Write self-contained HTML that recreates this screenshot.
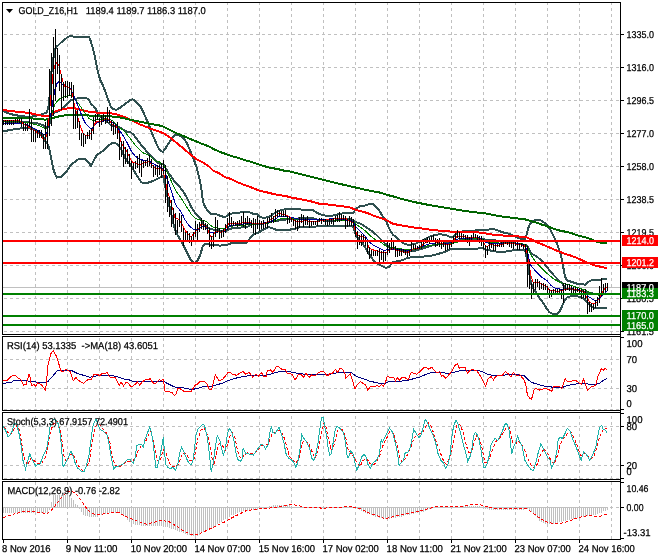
<!DOCTYPE html>
<html><head><meta charset="utf-8"><title>GOLD_Z16,H1</title>
<style>html,body{margin:0;padding:0;background:#fff;width:660px;height:560px;overflow:hidden}svg{display:block}text{white-space:pre}</style>
</head><body>
<svg width="660" height="560" viewBox="0 0 660 560" shape-rendering="crispEdges">
<rect x="0" y="0" width="660" height="560" fill="#fff"/>
<g stroke="#c0c0c0" stroke-width="1" stroke-dasharray="3 3" fill="none"><line x1="35.5" y1="2" x2="35.5" y2="334"/><line x1="67.5" y1="2" x2="67.5" y2="334"/><line x1="99.5" y1="2" x2="99.5" y2="334"/><line x1="131.5" y1="2" x2="131.5" y2="334"/><line x1="163.5" y1="2" x2="163.5" y2="334"/><line x1="195.5" y1="2" x2="195.5" y2="334"/><line x1="227.5" y1="2" x2="227.5" y2="334"/><line x1="259.5" y1="2" x2="259.5" y2="334"/><line x1="291.5" y1="2" x2="291.5" y2="334"/><line x1="323.5" y1="2" x2="323.5" y2="334"/><line x1="355.5" y1="2" x2="355.5" y2="334"/><line x1="387.5" y1="2" x2="387.5" y2="334"/><line x1="419.5" y1="2" x2="419.5" y2="334"/><line x1="451.5" y1="2" x2="451.5" y2="334"/><line x1="483.5" y1="2" x2="483.5" y2="334"/><line x1="515.5" y1="2" x2="515.5" y2="334"/><line x1="547.5" y1="2" x2="547.5" y2="334"/><line x1="579.5" y1="2" x2="579.5" y2="334"/><line x1="611.5" y1="2" x2="611.5" y2="334"/><line x1="35.5" y1="338" x2="35.5" y2="410"/><line x1="67.5" y1="338" x2="67.5" y2="410"/><line x1="99.5" y1="338" x2="99.5" y2="410"/><line x1="131.5" y1="338" x2="131.5" y2="410"/><line x1="163.5" y1="338" x2="163.5" y2="410"/><line x1="195.5" y1="338" x2="195.5" y2="410"/><line x1="227.5" y1="338" x2="227.5" y2="410"/><line x1="259.5" y1="338" x2="259.5" y2="410"/><line x1="291.5" y1="338" x2="291.5" y2="410"/><line x1="323.5" y1="338" x2="323.5" y2="410"/><line x1="355.5" y1="338" x2="355.5" y2="410"/><line x1="387.5" y1="338" x2="387.5" y2="410"/><line x1="419.5" y1="338" x2="419.5" y2="410"/><line x1="451.5" y1="338" x2="451.5" y2="410"/><line x1="483.5" y1="338" x2="483.5" y2="410"/><line x1="515.5" y1="338" x2="515.5" y2="410"/><line x1="547.5" y1="338" x2="547.5" y2="410"/><line x1="579.5" y1="338" x2="579.5" y2="410"/><line x1="611.5" y1="338" x2="611.5" y2="410"/><line x1="35.5" y1="416" x2="35.5" y2="479"/><line x1="67.5" y1="416" x2="67.5" y2="479"/><line x1="99.5" y1="416" x2="99.5" y2="479"/><line x1="131.5" y1="416" x2="131.5" y2="479"/><line x1="163.5" y1="416" x2="163.5" y2="479"/><line x1="195.5" y1="416" x2="195.5" y2="479"/><line x1="227.5" y1="416" x2="227.5" y2="479"/><line x1="259.5" y1="416" x2="259.5" y2="479"/><line x1="291.5" y1="416" x2="291.5" y2="479"/><line x1="323.5" y1="416" x2="323.5" y2="479"/><line x1="355.5" y1="416" x2="355.5" y2="479"/><line x1="387.5" y1="416" x2="387.5" y2="479"/><line x1="419.5" y1="416" x2="419.5" y2="479"/><line x1="451.5" y1="416" x2="451.5" y2="479"/><line x1="483.5" y1="416" x2="483.5" y2="479"/><line x1="515.5" y1="416" x2="515.5" y2="479"/><line x1="547.5" y1="416" x2="547.5" y2="479"/><line x1="579.5" y1="416" x2="579.5" y2="479"/><line x1="611.5" y1="416" x2="611.5" y2="479"/><line x1="35.5" y1="482" x2="35.5" y2="539"/><line x1="67.5" y1="482" x2="67.5" y2="539"/><line x1="99.5" y1="482" x2="99.5" y2="539"/><line x1="131.5" y1="482" x2="131.5" y2="539"/><line x1="163.5" y1="482" x2="163.5" y2="539"/><line x1="195.5" y1="482" x2="195.5" y2="539"/><line x1="227.5" y1="482" x2="227.5" y2="539"/><line x1="259.5" y1="482" x2="259.5" y2="539"/><line x1="291.5" y1="482" x2="291.5" y2="539"/><line x1="323.5" y1="482" x2="323.5" y2="539"/><line x1="355.5" y1="482" x2="355.5" y2="539"/><line x1="387.5" y1="482" x2="387.5" y2="539"/><line x1="419.5" y1="482" x2="419.5" y2="539"/><line x1="451.5" y1="482" x2="451.5" y2="539"/><line x1="483.5" y1="482" x2="483.5" y2="539"/><line x1="515.5" y1="482" x2="515.5" y2="539"/><line x1="547.5" y1="482" x2="547.5" y2="539"/><line x1="579.5" y1="482" x2="579.5" y2="539"/><line x1="611.5" y1="482" x2="611.5" y2="539"/><line x1="4" y1="34.5" x2="620" y2="34.5"/><line x1="4" y1="67.5" x2="620" y2="67.5"/><line x1="4" y1="100.5" x2="620" y2="100.5"/><line x1="4" y1="133.5" x2="620" y2="133.5"/><line x1="4" y1="166.5" x2="620" y2="166.5"/><line x1="4" y1="199.5" x2="620" y2="199.5"/><line x1="4" y1="232.5" x2="620" y2="232.5"/><line x1="4" y1="265.5" x2="620" y2="265.5"/><line x1="4" y1="298.5" x2="620" y2="298.5"/><line x1="4" y1="331.5" x2="620" y2="331.5"/><line x1="4" y1="359.5" x2="620" y2="359.5"/><line x1="4" y1="388.5" x2="620" y2="388.5"/><line x1="4" y1="409.5" x2="620" y2="409.5"/><line x1="4" y1="426.5" x2="620" y2="426.5"/><line x1="4" y1="465.5" x2="620" y2="465.5"/><line x1="4" y1="478.5" x2="620" y2="478.5"/><line x1="4" y1="507.5" x2="620" y2="507.5"/></g>
<line x1="3" y1="287.5" x2="620" y2="287.5" stroke="#c0c0c0" stroke-width="1"/>
<polyline points="3,111 5,111.9 7,112.7 9,113.6 11,114.2 13,114.6 15,115 17,115.4 19,115.8 21,116.1 23,116.3 25,116.5 27,116.7 29,116.9 31,116.8 33,116.3 35,115.8 37,115.4 39,114.9 41,114.5 43,114 45,113.2 47,112.2 49,104.6 51,75.4 53,60.3 55,49.6 57,46.3 59,44.6 61,42.5 63,40.8 65,39.2 67,37.6 69,36.4 71,35.7 73,36.5 75,36.6 77,36.6 79,36.6 81,36.6 83,36.6 85,36.6 87,36.6 89,36.6 91,41.9 93,48.7 95,57.2 97,67.4 99,76.1 101,81.7 103,85.7 105,90.7 107,96.5 109,101.6 111,107.1 113,108.7 115,109.5 117,109.5 119,108.3 121,107.1 123,105.5 125,103.9 127,102.4 129,101 131,99.6 133,99.4 135,101 137,102.6 139,104.8 141,107.4 143,111.4 145,115.9 147,120.4 149,125.2 151,130.8 153,135.6 155,140.3 157,144.8 159,148.8 161,151.1 163,151.7 165,149.2 167,145.9 169,142.9 171,139.9 173,137 175,134.5 177,134.5 179,135.2 181,136.4 183,137.9 185,140 187,143.6 189,147.8 191,152.9 193,157.8 195,162.9 197,168.7 199,176.7 201,186.5 203,201.5 205,206.6 207,209.6 209,211.9 211,213.8 213,213.8 215,213.8 217,214.6 219,215.3 221,216 223,216.7 225,217.3 227,215.9 229,214.3 231,213.8 233,213.3 235,213.1 237,212.9 239,212.7 241,212.2 243,211.7 245,211.6 247,211.7 249,211.8 251,213.1 253,213.6 255,213.9 257,214.3 259,216.1 261,217.2 263,217.7 265,217.7 267,217.4 269,216.8 271,215.6 273,214.1 275,212.8 277,211.9 279,210.9 281,210.3 283,209.7 285,209.2 287,208.8 289,208.6 291,208.6 293,208.7 295,208.9 297,209.2 299,209.4 301,209.5 303,209.6 305,209.6 307,209.7 309,209.7 311,209.8 313,210 315,211.4 317,212.7 319,214 321,214.6 323,215.1 325,215.5 327,215.7 329,215.8 331,215.9 333,215.5 335,215 337,214.5 339,214 341,213.7 343,213.4 345,213.2 347,213.2 349,213.2 351,213.2 353,213.1 355,210.5 357,208.2 359,206.6 361,206.2 363,205.8 365,205.5 367,205.1 369,204.1 371,203.8 373,204.1 375,205.6 377,207.6 379,210.2 381,213.5 383,216.6 385,219.3 387,223.2 389,228.1 391,231.8 393,234.7 395,236.2 397,237.7 399,239.7 401,241.5 403,243.2 405,244 407,244.5 409,244.5 411,244.5 413,244.2 415,243.9 417,243 419,242.1 421,241.2 423,240.2 425,239.2 427,238.1 429,237.1 431,236.1 433,235.4 435,234.8 437,234.6 439,234.4 441,234.4 443,234.6 445,234.8 447,235.6 449,236.5 451,236.7 453,236.9 455,235.4 457,232.9 459,232.2 461,231.7 463,231.4 465,231.2 467,231 469,230.9 471,230.7 473,230.6 475,230.5 477,230.3 479,230.2 481,230.2 483,230.2 485,230.2 487,230 489,229.6 491,229.1 493,228.8 495,229.5 497,230.1 499,230.9 501,231.7 503,232.4 505,232.8 507,233.2 509,233.8 511,234.6 513,235.4 515,236.4 517,237.4 519,238.3 521,238.6 523,239 525,239.3 527,233.3 529,225.7 531,223.1 533,221 535,219.8 537,219.5 539,219.6 541,220.6 543,221.7 545,223.2 547,224.7 549,227.6 551,230.9 553,234.9 555,239 557,243.5 559,249.1 561,255.6 563,265.7 565,276.5 567,280.2 569,281.1 571,281.6 573,282.3 575,283.1 577,283.6 579,283.9 581,284.1 583,284.4 585,284.7 587,282.8 589,281.4 591,280.4 593,279.8 595,279.8 597,280.4 599,280.2 601,279.8 603,279.1 605,278.8 607,278.7" fill="none" stroke="#2f4f4f" stroke-width="2" />
<polyline points="3,131.4 5,131 7,130.6 9,130.2 11,129.8 13,129.5 15,129.2 17,128.9 19,128.6 21,128.3 23,128.2 25,128.2 27,128.2 29,128.2 31,128.6 33,129.4 35,130.2 37,131 39,132.7 41,134.3 43,136 45,141 47,143 49,147.9 51,157.4 53,167.8 55,173.9 57,177.5 59,177.3 61,176.9 63,175.4 65,173.3 67,170.8 69,167.9 71,164.9 73,163.1 75,161.7 77,160.2 79,159 81,159 83,159 85,159 87,160.6 89,163 91,166 93,162.1 95,158.3 97,154.8 99,153.5 101,152.2 103,150.7 105,149 107,147 109,145.1 111,143.9 113,142.7 115,143 117,144.1 119,146.1 121,149.1 123,153.6 125,157.5 127,161 129,163.3 131,165.5 133,168.9 135,172.5 137,175.9 139,178.9 141,181.8 143,183 145,183 147,183 149,182.4 151,181.7 153,181 155,180 157,179 159,178 161,177 163,176 165,185 167,195 169,204.3 171,213 173,221.7 175,229.3 177,234.3 179,237.5 181,240.8 183,244.5 185,248.6 187,252.5 189,256.6 191,260.1 193,262.1 195,262.8 197,261.2 199,257.8 201,252.4 203,245.6 205,244.1 207,244.1 209,244.1 211,245 213,245.3 215,245.3 217,245.4 219,245.5 221,245.5 223,245.4 225,245.3 227,245 229,244 231,243.3 233,243 235,242.9 237,242.9 239,242.9 241,242.8 243,242.7 245,242.6 247,242.5 249,239.8 251,236.7 253,234.6 255,233.6 257,233 259,232.4 261,231 263,229.7 265,228.7 267,227.7 269,227.3 271,227.7 273,228.5 275,229.3 277,230 279,230 281,230 283,230 285,230 287,230 289,229.8 291,229.4 293,229 295,228.6 297,228.3 299,227.3 301,226.8 303,226.7 305,226.6 307,226.6 309,226.6 311,226.6 313,226.6 315,226.6 317,226.4 319,226.1 321,225.8 323,226 325,226.1 327,226.1 329,226.1 331,226.1 333,226.3 335,226.5 337,226.4 339,226.1 341,225.9 343,225.6 345,225.5 347,225.5 349,225.5 351,225.6 353,226.5 355,232.6 357,236.9 359,239.3 361,241.8 363,244.3 365,247.4 367,250.7 369,254 371,257 373,259.7 375,261.8 377,263.5 379,264.5 381,265.5 383,266.5 385,267.5 387,267.5 389,266.7 391,264.5 393,262.1 395,261.7 397,261.3 399,260.9 401,260.5 403,260 405,259.1 407,258.1 409,257.7 411,257.4 413,257.3 415,257.3 417,257.1 419,256.9 421,256.8 423,256.6 425,256.4 427,256.2 429,255.9 431,255.7 433,255.3 435,254.8 437,254.3 439,253.7 441,253.1 443,252.4 445,251.7 447,250.9 449,250 451,249.2 453,248.8 455,248.8 457,248.8 459,248.8 461,248.8 463,248.9 465,248.9 467,248.9 469,248.9 471,248.9 473,248.9 475,248.9 477,248.7 479,248.4 481,248.1 483,248.3 485,249.1 487,249.7 489,250.2 491,250.6 493,251 495,251.3 497,251.6 499,251.6 501,251.6 503,251.6 505,251.6 507,251.4 509,251 511,250.6 513,250.4 515,250.2 517,250 519,250 521,250 523,250 525,250 527,258.7 529,271.8 531,283 533,288.2 535,290.9 537,293.8 539,297.2 541,300 543,302.7 545,306 547,309 549,311.7 551,313.1 553,314 555,314 557,313.7 559,312.3 561,308.7 563,303.8 565,299.7 567,297.5 569,296.7 571,296.4 573,296.2 575,296.2 577,296.3 579,296.6 581,297.3 583,298 585,300 587,302 589,304 591,306 593,307.5 595,308.4 597,308.4 599,308.4 601,308.4 603,308.4 605,308.4 607,308.4" fill="none" stroke="#2f4f4f" stroke-width="2" />
<polyline points="3,121.2 5,121.4 7,121.6 9,121.9 11,122 13,122 15,122.1 17,122.1 19,122.2 21,122.2 23,122.2 25,122.3 27,122.4 29,122.5 31,122.7 33,122.9 35,123 37,123.2 39,123.8 41,124.4 43,125 45,127.1 47,127.6 49,126.3 51,116.4 53,114 55,111.8 57,111.9 59,110.9 61,109.7 63,108.1 65,106.3 67,104.2 69,102.1 71,100.3 73,99.8 75,99.1 77,98.4 79,97.8 81,97.8 83,97.8 85,97.8 87,98.6 89,99.8 91,104 93,105.4 95,107.7 97,111.1 99,114.8 101,116.9 103,118.2 105,119.8 107,121.7 109,123.4 111,125.5 113,125.7 115,126.3 117,126.8 119,127.2 121,128.1 123,129.5 125,130.7 127,131.7 129,132.1 131,132.6 133,134.2 135,136.7 137,139.2 139,141.8 141,144.6 143,147.2 145,149.4 147,151.7 149,153.8 151,156.2 153,158.3 155,160.2 157,161.9 159,163.4 161,164.1 163,163.9 165,167.1 167,170.4 169,173.6 171,176.4 173,179.3 175,181.9 177,184.4 179,186.3 181,188.6 183,191.2 185,194.3 187,198.1 189,202.2 191,206.5 193,209.9 195,212.8 197,215 199,217.2 201,219.5 203,223.5 205,225.3 207,226.8 209,228 211,229.4 213,229.5 215,229.6 217,230 219,230.4 221,230.7 223,231 225,231.3 227,230.4 229,229.2 231,228.6 233,228.2 235,228 237,227.9 239,227.8 241,227.5 243,227.2 245,227.1 247,227.1 249,225.8 251,224.9 253,224.1 255,223.8 257,223.6 259,224.2 261,224.1 263,223.7 265,223.2 267,222.6 269,222.1 271,221.7 273,221.3 275,221.1 277,220.9 279,220.5 281,220.2 283,219.8 285,219.6 287,219.4 289,219.2 291,219 293,218.9 295,218.8 297,218.7 299,218.4 301,218.1 303,218.1 305,218.1 307,218.1 309,218.2 311,218.2 313,218.3 315,219 317,219.5 319,220.1 321,220.2 323,220.5 325,220.8 327,220.9 329,221 331,221 333,220.9 335,220.7 337,220.4 339,220.1 341,219.8 343,219.5 345,219.3 347,219.3 349,219.3 351,219.4 353,219.8 355,221.6 357,222.5 359,223 361,224 363,225 365,226.4 367,227.9 369,229.1 371,230.4 373,231.9 375,233.7 377,235.5 379,237.4 381,239.5 383,241.6 385,243.4 387,245.4 389,247.4 391,248.1 393,248.4 395,248.9 397,249.5 399,250.3 401,251 403,251.6 405,251.6 407,251.3 409,251.1 411,250.9 413,250.7 415,250.6 417,250.1 419,249.5 421,249 423,248.4 425,247.8 427,247.1 429,246.5 431,245.9 433,245.3 435,244.8 437,244.5 439,244.1 441,243.7 443,243.5 445,243.2 447,243.2 449,243.2 451,243 453,242.9 455,242.1 457,240.9 459,240.5 461,240.3 463,240.1 465,240 467,240 469,239.9 471,239.8 473,239.7 475,239.7 477,239.5 479,239.3 481,239.1 483,239.2 485,239.6 487,239.9 489,239.9 491,239.9 493,239.9 495,240.4 497,240.9 499,241.3 501,241.7 503,242 505,242.2 507,242.3 509,242.4 511,242.6 513,242.9 515,243.3 517,243.7 519,244.1 521,244.3 523,244.5 525,244.7 527,246 529,248.7 531,253 533,254.6 535,255.4 537,256.7 539,258.4 541,260.3 543,262.2 545,264.6 547,266.8 549,269.6 551,272 553,274.4 555,276.5 557,278.6 559,280.7 561,282.2 563,284.7 565,288.1 567,288.9 569,288.9 571,289 573,289.3 575,289.6 577,289.9 579,290.2 581,290.7 583,291.2 585,292.4 587,292.4 589,292.7 591,293.2 593,293.6 595,294.1 597,294.4 599,294.3 601,294.1 603,293.8 605,293.6 607,293.6" fill="none" stroke="#2f4f4f" stroke-width="2" />
<polyline points="3,110 5,110.3 7,110.5 9,110.8 11,111 13,111.3 15,111.5 17,111.7 19,111.9 21,112.1 23,112.3 25,112.5 27,112.7 29,113 31,113.4 33,113.9 35,114.3 37,114.7 39,115.2 41,115.5 43,115.7 45,115.9 47,115.8 49,115.6 51,114.8 53,112.8 55,111.6 57,110.9 59,110.2 61,109.7 63,109.2 65,108.8 67,108.5 69,108.2 71,107.9 73,108 75,108.1 77,108.8 79,109.4 81,109.9 83,110.4 85,110.9 87,111.3 89,111.7 91,112 93,112.3 95,112.4 97,112.6 99,112.7 101,112.7 103,112.7 105,112.7 107,112.9 109,113.1 111,113.3 113,113.7 115,114.1 117,114.6 119,115.2 121,115.8 123,116.5 125,117.3 127,118.1 129,119.1 131,120.1 133,121.1 135,122.1 137,123.1 139,124 141,124.8 143,125.5 145,126.4 147,127.2 149,128 151,128.8 153,129.6 155,130.2 157,130.9 159,131.6 161,132.3 163,133 165,134.2 167,135.4 169,136.7 171,138.3 173,139.9 175,141.6 177,143.2 179,144.9 181,146.5 183,148.2 185,149.9 187,151.6 189,153.2 191,154.9 193,156.5 195,158 197,159.5 199,160.6 201,161.6 203,162.6 205,163.8 207,165.2 209,166.5 211,168.5 213,170.6 215,171.4 217,172.3 219,173.1 221,174.4 223,175.9 225,177.2 227,177.7 229,178.2 231,179.1 233,180.1 235,181.1 237,182 239,182.8 241,183.6 243,184.5 245,185.2 247,185.9 249,186.6 251,187.3 253,188.1 255,188.9 257,189.8 259,190.5 261,191 263,191.5 265,192 267,192.4 269,192.9 271,193.4 273,193.9 275,194.3 277,194.6 279,195 281,195.3 283,195.6 285,195.8 287,196.4 289,196.9 291,197.5 293,197.9 295,198.2 297,198.6 299,198.9 301,199.3 303,199.7 305,200.1 307,200.6 309,201 311,201.4 313,201.9 315,202.5 317,203.1 319,203.6 321,203.8 323,203.9 325,204.1 327,204.4 329,204.6 331,204.9 333,205.1 335,205.4 337,205.6 339,205.9 341,206.2 343,206.4 345,206.7 347,206.9 349,207.2 351,207.8 353,208.7 355,209.5 357,210.1 359,210.7 361,211.3 363,211.8 365,212.4 367,212.9 369,213.7 371,214.5 373,215.4 375,216.1 377,216.8 379,217.4 381,218.1 383,218.7 385,219.3 387,220.4 389,221.6 391,222.7 393,223.8 395,224.2 397,224.6 399,225 401,225.3 403,225.7 405,226.1 407,226.4 409,226.7 411,227 413,227.3 415,227.6 417,227.8 419,228.1 421,228.4 423,228.7 425,228.9 427,229.2 429,229.5 431,229.8 433,230 435,230.3 437,230.4 439,230.6 441,230.8 443,230.9 445,231.1 447,231.3 449,231.4 451,231.6 453,231.8 455,231.9 457,232.1 459,232.2 461,232.2 463,232.1 465,232 467,231.9 469,231.7 471,231.6 473,231.8 475,232 477,232.2 479,232.5 481,232.7 483,233 485,233.4 487,233.7 489,234 491,234.4 493,234.6 495,234.8 497,235 499,235.2 501,235.4 503,235.5 505,235.7 507,235.8 509,236 511,236.1 513,236.3 515,236.3 517,236.4 519,236.5 521,236.5 523,236.6 525,236.8 527,237.6 529,238.4 531,239.3 533,240.3 535,241.3 537,242.2 539,243.1 541,243.9 543,244.7 545,245.6 547,246.4 549,247.3 551,248.2 553,249 555,249.9 557,250.7 559,251.5 561,252.3 563,253 565,253.8 567,254.4 569,255.1 571,255.7 573,256.4 575,257.2 577,258 579,258.8 581,259.8 583,260.7 585,261.6 587,262.4 589,263.2 591,264 593,264.7 595,265.4 597,266 599,266.4 601,266.8 603,267.2 605,267.7 607,268.1" fill="none" stroke="#ff0000" stroke-width="2" />
<polyline points="3,117.9 5,117.9 7,117.9 9,117.9 11,117.9 13,117.9 15,117.9 17,117.9 19,118 21,118 23,118 25,118.1 27,118.1 29,118.1 31,118.3 33,118.5 35,118.6 37,118.8 39,119 41,119.1 43,119.3 45,119.7 47,119.4 49,119 51,118.7 53,118 55,117.3 57,116.8 59,116.4 61,116.1 63,115.7 65,115.4 67,115.1 69,114.8 71,114.8 73,114.8 75,114.8 77,114.8 79,114.9 81,115 83,115.1 85,115.2 87,115.3 89,115.5 91,115.6 93,115.7 95,115.9 97,116 99,116.1 101,116.2 103,116.3 105,116.3 107,116.3 109,116.4 111,116.4 113,116.7 115,116.9 117,117.2 119,117.4 121,117.7 123,118.1 125,118.5 127,119 129,119.5 131,119.9 133,120.4 135,120.7 137,121.1 139,121.5 141,121.9 143,122.3 145,122.7 147,123.2 149,123.6 151,124 153,124.3 155,124.6 157,124.9 159,125.4 161,125.9 163,126.5 165,127.5 167,128.4 169,129.4 171,130.5 173,131.5 175,132.5 177,133.4 179,134.2 181,135 183,135.8 185,136.7 187,137.5 189,138.4 191,139.2 193,140.1 195,140.9 197,141.7 199,142.6 201,143.4 203,144.2 205,144.9 207,145.7 209,146.4 211,147.5 213,148.8 215,149.7 217,150.5 219,151.4 221,152.3 223,153 225,153.7 227,154.4 229,155.1 231,155.8 233,156.4 235,157 237,157.6 239,158.2 241,158.8 243,159.5 245,160.1 247,160.7 249,161.3 251,161.9 253,162.6 255,163.2 257,163.8 259,164.4 261,165.1 263,165.7 265,166.3 267,167 269,167.5 271,167.9 273,168.2 275,168.6 277,169 279,169.4 281,169.9 283,170.4 285,170.9 287,171.1 289,171.3 291,171.7 293,172.2 295,172.7 297,173.2 299,173.7 301,174.2 303,174.7 305,175.2 307,175.7 309,176.3 311,176.8 313,177.3 315,177.8 317,178.3 319,178.8 321,179.3 323,179.8 325,180.3 327,180.7 329,181.2 331,181.7 333,182.2 335,182.7 337,183.2 339,183.7 341,184.2 343,184.6 345,185.1 347,185.6 349,186 351,186.5 353,186.9 355,187.4 357,187.8 359,188.3 361,188.8 363,189.2 365,189.7 367,190.1 369,190.5 371,190.9 373,191.3 375,191.7 377,192 379,192.4 381,192.9 383,193.6 385,194.2 387,194.9 389,195.4 391,195.9 393,196.4 395,196.9 397,197.5 399,198.1 401,198.7 403,199.3 405,199.8 407,200.3 409,200.9 411,201.3 413,201.8 415,202.2 417,202.6 419,203 421,203.4 423,203.8 425,204.2 427,204.6 429,205 431,205.3 433,205.7 435,206 437,206.3 439,206.6 441,207 443,207.3 445,207.7 447,208.1 449,208.4 451,208.7 453,209 455,209.3 457,209.6 459,210 461,210.3 463,210.6 465,210.9 467,211.2 469,211.5 471,211.8 473,212.1 475,212.3 477,212.5 479,212.8 481,213 483,213.2 485,213.4 487,213.7 489,214.1 491,214.5 493,214.9 495,215.3 497,215.7 499,216 501,216.3 503,216.6 505,216.9 507,217.2 509,217.4 511,217.7 513,217.9 515,218.2 517,218.4 519,218.7 521,218.9 523,219.2 525,219.4 527,219.9 529,220.5 531,221.1 533,221.7 535,222.3 537,222.9 539,223.6 541,224.3 543,225 545,225.6 547,226.3 549,227 551,227.7 553,228.5 555,229.2 557,229.9 559,230.4 561,230.8 563,231.2 565,231.6 567,232.1 569,232.6 571,233.1 573,233.7 575,234.4 577,235.1 579,235.7 581,236.2 583,236.7 585,237.2 587,237.9 589,238.5 591,239.2 593,240.1 595,240.9 597,241.7 599,242.3 601,242.8 603,242.9 605,242.9 607,242.9" fill="none" stroke="#006400" stroke-width="2" />
<polyline points="3,121.5 5,121.6 7,121.6 9,121.7 11,121.7 13,121.8 15,121.9 17,121.9 19,122 21,122.1 23,122.3 25,122.5 27,122.7 29,122.9 31,123.3 33,123.9 35,124.5 37,125.1 39,125.7 41,126.5 43,127.5 45,128.5 47,127 49,122.5 51,116.6 53,110.1 55,104.2 57,101.6 59,99.5 61,98 63,96.9 65,96.4 67,95.9 69,95.5 71,95.1 73,96.6 75,99.3 77,101.8 79,104.3 81,107.2 83,110.2 85,113.2 87,116.2 89,118.3 91,119.8 93,120.5 95,120 97,119.6 99,119.4 101,119.2 103,119 105,118.8 107,119.1 109,119.4 111,119.9 113,121.1 115,123.1 117,125 119,126.9 121,128.6 123,130.2 125,131.9 127,134.4 129,137 131,139.6 133,142.2 135,144.7 137,147.1 139,149.1 141,151.2 143,152.7 145,153.7 147,154.6 149,155.6 151,156.8 153,158.8 155,160.7 157,161.2 159,161.7 161,163.3 163,165.1 165,168.1 167,171.9 169,175.9 171,180.6 173,185 175,189 177,192.6 179,195.1 181,197.7 183,201 185,204.3 187,207.6 189,210.6 191,213.7 193,215.9 195,217.9 197,219 199,219.6 201,220.2 203,220.5 205,220.9 207,222 209,224 211,225.7 213,227.1 215,227.6 217,228 219,228.3 221,228.3 223,228.3 225,228 227,227.6 229,226.8 231,226.2 233,226 235,225.8 237,225.7 239,225.5 241,225.3 243,225.1 245,225 247,224.8 249,224.6 251,224.4 253,224.2 255,224.1 257,223.9 259,223.7 261,223.6 263,223.5 265,223.4 267,223.3 269,223 271,222.2 273,221.5 275,220.8 277,220 279,219.2 281,218.6 283,218.5 285,218.4 287,218.3 289,218.5 291,218.7 293,218.8 295,219 297,219.2 299,219.3 301,219.4 303,219.4 305,219.4 307,219.5 309,219.5 311,219.5 313,219.5 315,219.6 317,219.6 319,219.6 321,219.6 323,219.7 325,219.7 327,219.8 329,219.9 331,219.9 333,220 335,220.1 337,220.2 339,220.3 341,220.4 343,220.5 345,220.6 347,220.7 349,220.9 351,221 353,221.1 355,222.8 357,224.8 359,226.3 361,227.7 363,229 365,230.7 367,232.6 369,234.6 371,236.3 373,237.9 375,239.4 377,240.4 379,241.4 381,242.4 383,243.9 385,245.4 387,246.7 389,247 391,247.3 393,247.6 395,248 397,248.3 399,248.6 401,248.9 403,249.2 405,249.5 407,249.8 409,249.9 411,249.6 413,249.3 415,249 417,248.6 419,248.3 421,247.8 423,247.1 425,246.5 427,246 429,245.6 431,245.3 433,245 435,244.7 437,244.5 439,244.3 441,244 443,243.9 445,243.9 447,243.8 449,243.7 451,243.6 453,243.2 455,242.7 457,242.2 459,241.4 461,240.6 463,239.8 465,239.3 467,239.2 469,239 471,238.8 473,238.7 475,238.6 477,238.6 479,238.5 481,239.1 483,240.2 485,241.4 487,241.9 489,242.2 491,242.5 493,242.8 495,242.8 497,242.9 499,243 501,243 503,243.1 505,243.1 507,243.2 509,243.2 511,243.3 513,243.4 515,243.6 517,243.7 519,243.8 521,243.9 523,244 525,244.3 527,246.1 529,250.6 531,255 533,258 535,261.1 537,263.4 539,265.4 541,267.4 543,269.4 545,271.4 547,273.4 549,275.1 551,276.7 553,278.4 555,279.8 557,280.8 559,281.8 561,282.8 563,283.4 565,283.9 567,284.4 569,285 571,285.6 573,286.1 575,286.7 577,287.3 579,287.9 581,288.6 583,289.4 585,290.1 587,290.9 589,291.9 591,292.9 593,293.6 595,294.3 597,294.8 599,295.2 601,295 603,294.6 605,294.1 607,293.6" fill="none" stroke="#008000" stroke-width="1" />
<polyline points="3,123 5,123 7,123 9,123 11,123 13,123 15,123 17,123 19,123 21,123.2 23,123.8 25,124.2 27,124.8 29,125.6 31,126.7 33,127.9 35,129 37,130.1 39,131.3 41,132.4 43,133.8 45,135.2 47,132 49,121.3 51,113.4 53,100.4 55,89.6 57,83.6 59,81.3 61,82.6 63,85.2 65,86.5 67,86.8 69,87.5 71,89.8 73,93.9 75,98.8 77,103.5 79,108.2 81,113.5 83,118.5 85,122.5 87,125.2 89,127.2 91,128.7 93,127.7 95,124.4 97,122.8 99,122.2 101,121.7 103,121.1 105,120.6 107,120.3 109,120.8 111,121.9 113,122.6 115,124.2 117,126.8 119,129.5 121,132.5 123,135.5 125,139 127,142.5 129,146.5 131,150.5 133,153.4 135,155.8 137,157.3 139,158.7 141,159.5 143,160.2 145,160.8 147,161 149,161.2 151,162.2 153,163.4 155,164.6 157,165.9 159,167.1 161,167.9 163,168.7 165,170.9 167,178.4 169,183.7 171,189.8 173,196.5 175,202.6 177,207.3 179,209 181,212.1 183,215.6 185,219.7 187,222.8 189,225.5 191,227.4 193,229 195,230 197,229.7 199,228.9 201,227.2 203,226.4 205,226.6 207,228.3 209,231.1 211,232.6 213,232.9 215,232.7 217,231.9 219,231.7 221,232.2 223,231.9 225,231 227,229.1 229,227.2 231,225.5 233,225.5 235,225.3 237,224.8 239,224.3 241,224.2 243,224 245,223.9 247,223.7 249,223.6 251,223.5 253,223.5 255,223.5 257,223.6 259,223.6 261,223.6 263,223.2 265,222.9 267,222.6 269,222.2 271,221.6 273,220.8 275,219.5 277,218 279,216.4 281,216.3 283,216.2 285,216.1 287,216.1 289,216.7 291,217.2 293,217.8 295,218.2 297,218.8 299,219.2 301,219.5 303,219.6 305,219.6 307,219.7 309,219.7 311,219.8 313,219.8 315,219.9 317,219.9 319,220 321,219.9 323,219.7 325,219.4 327,219.2 329,219 331,218.7 333,218.5 335,218.5 337,218.8 339,219.1 341,219.4 343,219.7 345,219.9 347,220.2 349,220.5 351,220.8 353,221.1 355,225.4 357,228 359,230 361,232 363,234 365,236 367,239.2 369,241.9 371,243.5 373,244.9 375,245.9 377,246.9 379,247.9 381,248.9 383,250 385,250.3 387,249.9 389,249.7 391,249.5 393,249.2 395,249.3 397,249.4 399,249.5 401,249.6 403,250 405,250.4 407,250.8 409,250.8 411,249.8 413,249 415,248.5 417,248 419,247.5 421,246.8 423,246.2 425,245.3 427,244.5 429,243.9 431,243.4 433,243.1 435,243 437,242.8 439,242.9 441,243.2 443,243.4 445,243.6 447,243.3 449,243 451,242.7 453,242.3 455,240.6 457,239.3 459,238.9 461,238.5 463,238.3 465,238.3 467,238.3 469,238.2 471,238.1 473,238 475,237.9 477,237.9 479,238 481,238.9 483,240.7 485,242 487,242.7 489,243.5 491,243.7 493,243.7 495,243.8 497,243.9 499,243.9 501,244 503,243.9 505,243.8 507,243.8 509,243.7 511,243.6 513,243.7 515,243.8 517,243.9 519,244 521,244.1 523,244.3 525,245.7 527,250.2 529,258.7 531,265.5 533,268 535,270.5 537,272.7 539,274.7 541,276.7 543,278.1 545,279.3 547,280.5 549,282.9 551,285.4 553,287 555,288 557,288.7 559,288.9 561,289.1 563,289.3 565,289.2 567,289.1 569,288.9 571,288.8 573,288.8 575,289.1 577,289.5 579,290.1 581,290.8 583,291.5 585,292.7 587,295.2 589,296.9 591,298.2 593,299.4 595,300.6 597,300.1 599,298.5 601,296.4 603,294.5 605,292.8 607,291.3" fill="none" stroke="#0000a0" stroke-width="1" />
<polyline points="3,120.6 5,120.6 7,120.6 9,120.6 11,120.5 13,120.5 15,120.5 17,120.5 19,120.5 21,121.9 23,123.3 25,124.7 27,126 29,127.3 31,128.7 33,130 35,131.2 37,132.3 39,133.5 41,136 43,138.5 45,139.3 47,134 49,118 51,95 53,74.1 55,64.8 57,62.5 59,65.5 61,73.8 63,82.3 65,86.6 67,87.1 69,87.9 71,89.9 73,97.1 75,108.9 77,113.8 79,121.7 81,128 83,133 85,135 87,135.4 89,134.9 91,133.2 93,128.7 95,123.4 97,121.5 99,121.2 101,121.2 103,120.9 105,119.4 107,118.6 109,119.8 111,122.8 113,124.9 115,126.1 117,127.3 119,133.2 121,141.4 123,146.1 125,148.8 127,152.2 129,156.2 131,160.1 133,162.9 135,163 137,163.6 139,164.6 141,164.5 143,163.5 145,162.7 147,162.3 149,161.9 151,163.8 153,166.2 155,167.5 157,168.8 159,168.5 161,168.2 163,171 165,178.3 167,189.6 169,195.9 171,203.2 173,210.4 175,217.9 177,218.5 179,219.6 181,222.6 183,226.3 185,229.9 187,233.1 189,235.1 191,237.1 193,234.6 195,232.2 197,230.1 199,228 201,224.6 203,224.6 205,225.6 207,228.1 209,232.5 211,236.7 213,236.2 215,232.2 217,230.9 219,231.8 221,232.3 223,231.7 225,229.5 227,225.6 229,223.5 231,223.5 233,223.8 235,223.8 237,223.7 239,223.6 241,223.1 243,222.6 245,222.1 247,222.2 249,222.5 251,222.9 253,223.2 255,223.2 257,223.2 259,223.2 261,223.2 263,223.6 265,223.9 267,222.4 269,220.8 271,219.4 273,217.9 275,216.3 277,214.8 279,213.3 281,213.8 283,214.4 285,214.9 287,215.4 289,216.9 291,218.5 293,219.8 295,221 297,221.4 299,221.8 301,221.7 303,221.1 305,220.5 307,221.1 309,221.7 311,221.9 313,221.7 315,221.5 317,221.3 319,221.1 321,220.8 323,220.6 325,220.2 327,219.9 329,219.7 331,219.3 333,219.1 335,218.8 337,218.6 339,218.4 341,218.2 343,218.1 345,218.1 347,219.3 349,220.6 351,221.8 353,223 355,229.9 357,234.7 359,236.1 361,236.1 363,236.2 365,238.1 367,242.2 369,247.5 371,249.1 373,249.8 375,250.5 377,251.1 379,251.7 381,252.3 383,252.9 385,253 387,252.4 389,249.9 391,248.9 393,248.6 395,249.5 397,250.7 399,251.1 401,251.4 403,251.9 405,252.4 407,253 409,251.6 411,250.3 413,249 415,248.5 417,248.5 419,248 421,246.5 423,244.6 425,242.9 427,241.9 429,241.4 431,241.1 433,241.2 435,241.8 437,242.3 439,242.9 441,243.5 443,244.1 445,244.6 447,244.5 449,244.3 451,244 453,241.2 455,238.6 457,236.7 459,236.4 461,236.4 463,236.6 465,236.8 467,237.1 469,237.3 471,237.4 473,237.5 475,237.7 477,237.8 479,238.4 481,239.4 483,241.2 485,244.9 487,246.9 489,245.5 491,244.8 493,245 495,245.3 497,245.5 499,245 501,244.5 503,244 505,243.7 507,243.4 509,243.3 511,243.5 513,243.7 515,243.9 517,244.2 519,244.5 521,244.9 523,245.5 525,246.2 527,253.2 529,264.1 531,276.3 533,282.3 535,282.9 537,282.9 539,282.9 541,283.7 543,284.4 545,285.3 547,287.3 549,289.4 551,290.3 553,290.7 555,291 557,291 559,291 561,290.5 563,290 565,289.6 567,289.3 569,288.9 571,288.8 573,289.2 575,289.5 577,289.9 579,290.4 581,291 583,291.6 585,293.3 587,297.9 589,301.3 591,302.9 593,303.8 595,303.6 597,301.9 599,298.8 601,295.3 603,290.8 605,288.6 607,287.3" fill="none" stroke="#ff0000" stroke-width="1" />
<path d="M3.5 120V125M5.5 120V125M7.5 120V125M9.5 120V125M11.5 120V125M13.5 120V125M15.5 119V123M17.5 119V123M19.5 119V123M21.5 118V127M23.5 122V131M25.5 123V131M27.5 123V131M29.5 109V127M31.5 119V142M33.5 130V142M35.5 130V142M37.5 130V138M39.5 130V138M41.5 130V138M43.5 134V149M45.5 122V149M47.5 120V149M49.5 69V136M51.5 53V126M53.5 37V116M55.5 29V101M57.5 48V74M59.5 55V91M61.5 74V110M63.5 82V101M65.5 81V98M67.5 81V98M69.5 82V96M71.5 82V98M73.5 85V129M75.5 110V129M77.5 110V128M79.5 121V140M81.5 133V146M83.5 133V147M85.5 135V144M87.5 132V139M89.5 130V139M91.5 128V140M93.5 117V134M95.5 114V122M97.5 114V120M99.5 118V127M101.5 115V125M103.5 114V122M105.5 115V124M107.5 107V123M109.5 110V123M111.5 120V131M113.5 122V135M115.5 124V134M117.5 122V139M119.5 131V160M121.5 141V157M123.5 141V167M125.5 147V164M127.5 149V164M129.5 154V167M131.5 161V179M133.5 163V170M135.5 161V169M137.5 156V168M139.5 154V173M141.5 160V177M143.5 161V168M145.5 160V166M147.5 158V167M149.5 155V166M151.5 159V168M153.5 165V177M155.5 166V175M157.5 165V177M159.5 165V175M161.5 163V178M163.5 160V174M165.5 165V203M167.5 176V212M169.5 197V217M171.5 200V227M173.5 208V224M175.5 213V235M177.5 220V233M179.5 213V227M181.5 215V232M183.5 228V246M185.5 232V241M187.5 231V240M189.5 233V243M191.5 236V246M193.5 232V240M195.5 221V237M197.5 224V240M199.5 222V232M201.5 218V229M203.5 220V230M205.5 223V230M207.5 224V234M209.5 228V247M211.5 236V249M213.5 233V247M215.5 217V237M217.5 220V233M219.5 228V239M221.5 230V238M223.5 229V237M225.5 224V233M227.5 218V230M229.5 212V226M231.5 217V226M233.5 221V226M235.5 222V226M237.5 221V227M239.5 220V226M241.5 216V225M243.5 212V227M245.5 218V229M247.5 216V225M249.5 218V225M251.5 220V228M253.5 218V233M255.5 219V235M257.5 216V229M259.5 220V231M261.5 221V229M263.5 220V229M265.5 222V228M267.5 218V228M269.5 217V223M271.5 213V223M273.5 216V223M275.5 209V222M277.5 210V217M279.5 210V216M281.5 211V217M283.5 211V217M285.5 210V217M287.5 216V224M289.5 217V223M291.5 218V222M293.5 219V226M295.5 220V229M297.5 220V231M299.5 217V228M301.5 214V223M303.5 215V227M305.5 218V225M307.5 216V225M309.5 220V228M311.5 221V226M313.5 221V225M315.5 221V225M317.5 220V226M319.5 218V222M321.5 218V224M323.5 219V222M325.5 219V225M327.5 220V226M329.5 219V225M331.5 219V224M333.5 218V225M335.5 216V222M337.5 215V222M339.5 212V222M341.5 214V221M343.5 215V220M345.5 216V229M347.5 219V227M349.5 216V226M351.5 217V226M353.5 219V227M355.5 224V237M357.5 231V249M359.5 235V245M361.5 234V246M363.5 235V243M365.5 237V246M367.5 241V254M369.5 247V259M371.5 250V256M373.5 251V256M375.5 251V256M377.5 250V256M379.5 249V264M381.5 251V260M383.5 251V262M385.5 252V261M387.5 242V255M389.5 243V253M391.5 238V250M393.5 241V249M395.5 246V257M397.5 248V257M399.5 249V256M401.5 249V256M403.5 249V253M405.5 250V255M407.5 251V257M409.5 250V256M411.5 242V252M413.5 244V249M415.5 245V250M417.5 246V249M419.5 245V249M421.5 242V249M423.5 239V246M425.5 239V243M427.5 237V243M429.5 238V244M431.5 236V241M433.5 235V240M435.5 238V247M437.5 239V246M439.5 238V247M441.5 240V249M443.5 241V247M445.5 243V251M447.5 244V250M449.5 244V249M451.5 242V247M453.5 236V244M455.5 233V240M457.5 230V238M459.5 232V239M461.5 233V239M463.5 234V238M465.5 235V240M467.5 235V243M469.5 237V246M471.5 235V241M473.5 233V238M475.5 234V238M477.5 235V240M479.5 236V243M481.5 236V246M483.5 239V249M485.5 245V258M487.5 246V255M489.5 242V249M491.5 243V248M493.5 244V251M495.5 244V251M497.5 244V247M499.5 243V247M501.5 242V247M503.5 241V247M505.5 240V244M507.5 240V245M509.5 242V247M511.5 242V248M513.5 241V249M515.5 241V246M517.5 242V250M519.5 243V250M521.5 243V247M523.5 244V249M525.5 244V254M527.5 246V287M529.5 261V289M531.5 283V299M533.5 282V295M535.5 279V290M537.5 279V287M539.5 281V290M541.5 283V289M543.5 283V290M545.5 284V290M547.5 286V295M549.5 289V298M551.5 290V297M553.5 289V295M555.5 289V294M557.5 289V293M559.5 289V294M561.5 289V299M563.5 283V303M565.5 283V291M567.5 284V290M569.5 284V291M571.5 286V293M573.5 287V293M575.5 287V293M577.5 288V292M579.5 288V295M581.5 289V299M583.5 290V298M585.5 289V299M587.5 296V314M589.5 302V312M591.5 303V312M593.5 304V310M595.5 300V308M597.5 297V306M599.5 286V303M601.5 278V296M603.5 284V295M605.5 283V292M607.5 283V291" stroke="#000" stroke-width="1" fill="none"/>
<rect x="3" y="240" width="617" height="2" fill="#ff0000"/>
<rect x="3" y="262" width="617" height="2" fill="#ff0000"/>
<rect x="3" y="293" width="617" height="2" fill="#008000"/>
<rect x="3" y="315" width="617" height="2" fill="#008000"/>
<rect x="3" y="324" width="617" height="2" fill="#008000"/>
<polyline points="2.4,383.3 10.9,382.5 14.5,380.3 24.2,380.5 33.9,381.8 42.4,382.5 46.1,383 48.5,380.9 53.3,375.5 57.6,370.4 60.6,370.4 71.5,370.4 75.2,372.4 78,373.6 84.1,375.5 90.1,377.3 95,376.1 102.2,375.5 109.5,375.5 114.4,376.1 119.2,377.3 124.1,379.1 128.9,379.7 132.5,381.3 138.6,381.8 145.9,381.3 153.2,381.5 158,382 164.5,381.8 169.3,384.5 175.4,387.3 181.5,387.6 187.5,388.8 192.4,389.4 197.2,388.5 202.1,387 208.1,386.1 213,386.1 216.6,384.9 223.9,382.7 228.7,380.3 234,378.6 241.3,376.9 248.5,375.7 258.2,375.5 266.7,375.2 274,373 281.3,371.2 288.5,371.6 295.8,373 303.1,374 309.2,374.5 314,374.6 321.7,374 326.5,374.8 336.2,373 343.5,372.4 352,373 356.8,376.7 362.9,378.5 369,380.9 377.5,383 384.7,383.3 390,381.3 399.7,381.3 408.2,380.3 414.2,378.5 420.3,376.9 426.4,374.2 432.4,372.4 438.5,372.1 444.5,373 449.4,373.3 455.5,371.8 461.5,370.4 470,370.4 477.7,370.6 482.5,371.6 487.4,374.2 493.5,375.5 504.4,375.2 508,374.2 516.5,374.8 523.8,375.5 527.4,379.1 532.2,382.7 537.1,383.9 540.7,385.4 546,386.3 550.5,386.4 552.7,387.6 561.7,387.6 568.4,385.3 575.1,384.2 579.6,383.1 585.2,383.4 588.6,384.2 594.2,384.8 599.8,383.1 603.2,380.3 607.1,378.3" fill="none" stroke="#000080" stroke-width="1" />
<polyline points="2.4,380.3 7.3,380.3 11.5,376.1 15.2,375.2 18.2,378.1 20.6,379.1 23.6,385.2 26.1,384.5 29.1,374.2 30.3,377.9 31.5,385.8 33.9,384.5 35.8,386.4 37.6,382.7 41.2,384.5 45.5,390 46.7,380.3 47.9,365.8 50.9,353.6 53.3,350.6 56.4,356.1 59.4,365.8 60.6,370.6 63,371.8 66.1,369.4 70.3,371.8 73.3,380.9 75.8,377.3 78,380.1 83.5,383.3 87.7,379.7 91.3,379.1 93.8,374.8 97.4,374.5 99.8,375.7 102.2,373.3 104.7,373.6 107.1,372.4 108.3,374.8 110.7,377.9 113.2,377.3 115.6,377.9 119.2,385.2 121,382.1 123.5,385.8 125.9,382.5 127.7,382.7 131.3,387 135,384.5 137.4,382.1 139.8,385.2 142.2,381.8 145.9,379.3 148.9,379.7 150.1,378.1 151.9,381.5 154.4,384 156,383.3 159,379.7 161.5,380.3 163.3,379.3 165.1,391.2 169.3,391.8 171.8,392.4 174.2,395.5 176,394.2 177.8,388.8 180.2,388.8 183.9,391.2 187.5,391.8 191.2,391.8 194.8,385.2 197.2,384.5 199.6,381.8 204.5,381.5 206.9,383.9 209.3,389.4 211.8,389.4 213.6,381.5 215.4,374.8 219,380.9 222.7,379.1 226.3,374.8 228.1,372.4 229.9,372.4 232.4,374.2 234,374.2 236.4,375.5 240.1,373 243.1,371.6 245.5,374.2 249.2,372.4 252.8,377.3 255.8,374.2 258.8,376.1 261.3,372.4 263.7,376.1 266.1,376.1 267.3,370.6 270.4,370 272.8,372.4 276.4,366.4 278.8,367 282.5,369.6 284.9,369.4 287.3,373.6 289.8,373 292.2,374.8 295.2,379.7 298.2,374.8 301.3,374.8 303.7,377.3 306.1,373.3 309.2,377.3 311.6,374.8 315,376.1 318.7,372.4 321.7,371.6 324.1,371.8 327.2,376.1 330.2,373.3 332.6,373 335.6,369.2 337.5,372.4 339.9,368.2 342.3,369.2 344.7,373 345.9,378.1 348.4,375.5 350.2,373.6 352,379.1 355,388.8 357.5,384.5 360.5,381.3 363.5,383.9 365.3,384.5 367.8,390 370.2,387 373.8,386.4 377.5,385.8 379.3,387 381.7,384.5 383.5,386.4 385.3,382.7 387.2,376.7 390,377.3 393.6,377.3 395.5,380.9 397.3,377.3 399.1,380.3 402.1,377.3 405.2,377.9 408.2,379.7 411.2,372.4 413.6,373.3 416.7,374.2 420.3,371.2 424.5,367.2 426.4,367.6 428.8,369.2 431.8,367.2 435.5,371.8 437.9,373 439.7,371.6 441.5,376.1 443.3,375.5 445.8,378.5 449.4,374.2 451.8,371.2 454.8,365.8 457.3,363.6 459.1,368.2 462.1,367 465.2,367.9 467.6,373 469,371.5 471.6,369.6 474.1,370 477.1,371.2 480.1,375.5 482.5,379.7 485.6,385.8 488,379.1 491,376.4 493.5,379.7 495.9,376.1 501.9,375.5 505.6,371.6 508,373.6 511,377.3 513.5,372.4 516.5,375.5 520.1,374.8 523.8,379.7 525.6,383.9 527.4,394.8 529.8,398.5 531.6,399.1 534.1,390 535.9,388.5 539.5,390 543.2,389 545.6,388.5 549.4,389.8 551.6,391.5 553.8,386.4 559.5,386.4 561.7,388.7 565.1,378.6 567.3,381.4 570.7,381.6 572.9,380.5 575.7,380.3 579.1,383.1 581.3,384.2 583.6,379.4 585.2,383.6 587.5,390.4 590.8,387 594.2,385.9 595.9,384.8 597.6,376.9 601.5,368.5 603.2,370.2 605.4,368.2 607.1,370.4" fill="none" stroke="#ff0000" stroke-width="1" />
<polyline points="3.6,426.6 7.3,432 10.3,434.5 13.3,430.2 17,425.3 19.4,430.2 21.8,443.6 24.3,458.1 27.3,465.4 30.9,458.1 34,460.5 36.4,463 41.3,464.2 44.9,458.1 47.9,446 50.4,431.4 53.4,424.1 57,421.1 60.1,430.2 62.5,443.6 64.3,458.1 66.7,461.8 70.4,454.5 72.8,454.5 75.2,458.1 78,465.4 82.9,470.9 86.5,467.8 89.5,460.5 91.3,448.4 93.8,432.6 96.2,425.3 99.2,424.1 102.3,427.8 107.1,433.8 110.2,443.6 112,455.7 115,465.4 119.3,467.2 122.9,464.2 127.8,461.8 132.6,461.2 136.3,456.9 138.1,450.8 141.1,446 144.7,443.6 147.8,436.3 150.8,431.4 153.8,442.3 156.5,458 158.4,461.8 160.9,458.1 163.3,449.6 165.7,452 168.1,459.3 170.6,465.4 175.4,467.2 178.5,464.2 180.3,459.3 182.7,453.3 186.3,453.3 190,460.5 193.6,460.5 195.4,452 197.9,438.7 200.9,430.2 203.9,427.8 207,433.8 210,444.8 212.4,460.5 214.3,465.4 216.7,452 219.1,443.6 222.1,444.8 225.2,450.8 227.6,444.8 230,436.3 232.5,432.6 235.5,438.7 236.4,446 238.9,455.7 241.3,458.7 243.7,455.7 247.3,452.7 251,453.9 254.6,453.3 258.3,450.2 261.9,445.4 265.6,445.4 268.6,443.6 270.4,438.1 272.2,433.8 275.9,432 279.5,430.2 282.5,433.8 285,439.9 287.4,449.6 289.8,456.9 293.5,460.5 295.9,463 298.9,458.1 300.7,450.8 302.6,442.3 305.6,440.5 308.6,443.6 311.7,450.8 315,458.1 318.1,450.8 320.5,438.7 322.3,429 324.1,422.9 326,426.6 328.4,438.7 331.4,450.8 333.8,446 336.3,436.3 338.1,429.6 342.3,429.6 345.4,436.3 347.8,448.4 350.8,453.3 353.9,456.9 356.9,463 359.9,466.6 363,460.5 366.6,458.1 369.6,463 373.3,465.4 376.3,461.8 379.4,456.9 381.8,448.4 384.8,441.1 387.8,436.3 390,431 393,432.6 395.5,439.9 397.9,448.4 399.7,458.1 402.1,461.8 405.2,458.7 408.2,453.3 411.2,446 413.7,438.7 416.1,435.7 419.1,433.8 422.8,432 425.8,426.6 428.8,422.3 431.9,427.8 434.9,437.5 437.9,446 441,454.5 444,461.8 446.4,464.2 449.5,458.1 451.9,448.4 454.3,436.3 456.7,425.3 459.8,424.1 462.8,431.4 465.2,441.1 468.3,452 471.6,452 474.1,442.3 477.1,435.1 480.1,439.9 482.6,450.8 485,463 488,461.8 490.5,455.7 492.9,448.4 495.9,441.7 499.6,438.1 503.2,432.6 506.2,427.8 509.3,427.2 511.1,436.3 512.9,443.6 515.9,443.6 518.4,441.1 521.4,443.6 524.4,449.6 527.5,458.1 531.1,465.4 534.7,468.4 537.8,463 540.8,453.3 544.5,448.4 546,452.1 548.4,454.5 550.9,460.6 553.9,464.2 556.9,457 559.4,447.2 561.8,440.6 565.4,436.3 567.9,432.7 570.9,432 573.9,437.5 577,444.8 580.6,455.7 583.7,453.3 587.3,455.1 591,458.8 593.4,457 595.8,450.9 597.6,444.8 599.5,437.5 601.9,432 604.3,428.4 606.5,428.4" fill="none" stroke="#ff0000" stroke-width="1" stroke-dasharray="3 2"/>
<polyline points="3,426.3 5.5,430.2 7.9,436.3 9.7,435.7 12.1,431.4 14,424.1 15.2,423.5 17,425.3 19.4,435.1 21.2,446 23,460.5 25.5,469 27.3,463 29.7,453.9 32.2,459.3 35.8,466 37.6,464.2 40,464.2 43.7,454.5 46.7,448.4 48.5,438.7 50.4,424.1 51.6,421.7 53.4,419.3 56.4,420.5 58.3,424.1 60.1,433.8 61.3,444.8 63.1,467.2 65.5,463 68,458.1 71,450.8 72.8,455.7 75.2,463 77.7,468.4 78,467.8 81.6,471.5 84.1,471.5 86.5,465.4 88.9,455.7 90.7,442.3 92.6,427.8 94.4,421.7 96.2,419.3 98,424.1 99.8,429 103.5,431.4 107.1,435.1 108.9,443.6 110.8,454.5 112.6,464.2 113.8,469 115.6,466.6 119.3,466 122.9,464.2 126.5,460.5 128.4,459.3 130.2,459.9 133.2,463 135,458.1 136.9,445.4 138.7,444.8 141.7,444.8 143.5,447.2 144.7,439.9 147.2,433.8 149.6,427.2 151.4,432 153.2,443.6 155.1,460.5 155.7,467.8 157.2,467.2 159.6,458.1 162.1,444.8 163.3,437.5 164.5,452 165.7,464.2 168.1,467.8 170.6,468.4 173,467.2 175.4,470.3 177.8,464.2 179.7,453.3 181.5,447.2 183.9,452 186.3,458.1 188.8,463 191.2,464.8 193,460.5 194.2,452 196,435.1 197.9,429 200.9,426 203.1,424.1 204.5,425.3 207,436.3 209.4,453.3 211.2,471.5 213,464.2 215.5,446 217.3,435.7 219.7,439.9 222.1,450.8 223.4,455.1 225.2,449.6 227.6,432.6 229.4,428.4 231.8,432.6 234.3,442.3 235.8,452 237.6,459.3 240.1,461.2 241.9,460.5 243.1,448.4 245.5,453.3 248.6,453.9 253.4,455.1 257.1,449.6 261.3,444.2 263.1,444.8 265.6,449 268,444.8 269.8,433.2 271.4,426.6 272.8,432.6 275.3,433.8 277.1,430.2 279.1,427.2 281.3,433.8 283.8,442.3 286.2,454.5 288.6,458.1 292.3,460.5 294.7,463.6 295.7,467.2 297.7,463 300.1,448.4 301.7,434.5 303.8,438.1 306.8,442.3 309.8,449 311.7,458.1 313.8,460.5 315.6,455.7 318.1,442.3 320.5,424.1 321.7,417.5 323.2,417.5 324.7,426.6 326.6,436.3 328.4,449.6 329.6,455.1 331.4,453.9 333.2,442.3 335.1,430.2 336.9,426.3 339.3,427.8 343.6,432.6 345.4,442.3 347.2,456.9 348.4,457.5 350.8,450.8 353.3,454.5 355.1,463 356.9,470.3 359.3,464.2 361.8,456.9 364.2,454.5 366,456.9 367.8,464.2 370.3,468.4 372.7,463 376.3,460.5 379.4,454.5 381.2,439.9 382.4,442.3 384.8,437.5 387.2,432.6 389.7,427.8 390,429 392.4,432 394.9,441.1 397.3,452 399.1,465.4 400.9,463 403.3,460.5 405.2,452.7 408.2,452 410,448.4 411.8,439.9 413.7,429.6 416.1,433.2 419.1,438.1 420.9,435.1 422.8,429 425.2,419.3 427,421.7 430,429 433.1,435.1 436.1,444.8 437.9,453.3 441,460.5 443.4,463 445.8,468.4 448.3,463 450.1,454.5 451.9,436.3 453.7,425.3 456.1,420.3 458,424.1 460.4,432.6 462.8,442.3 465.2,450.8 467.7,461.2 468,460.5 470.4,455.7 472.2,447.2 473.5,436.3 475.3,432.4 477.1,434.5 478.9,439.9 480.7,448.4 482.6,460.5 483.8,467.2 485.6,467.2 487.4,463 489.2,455.7 491.1,444.8 492.9,441.1 495.3,438.1 497.7,440.5 500.2,435.7 502.6,430.8 504.4,425.3 506.2,423.5 507.4,424.7 509.3,431.4 511.1,448.4 511.7,453.9 513.5,447.2 515.9,442.3 517.5,436.3 519.6,441.1 522,446 525,460.5 528.7,466.6 531.1,469.6 533.5,470.9 536,461.8 538.4,452 540.8,444.2 543.2,448.4 545.7,453.3 547.8,457.6 550.3,460.6 551.5,467.9 553.3,464.2 555.1,459.4 556.9,450.9 558.2,439.9 560,436.9 562.4,438.7 564.8,433.9 567.3,428.4 570.3,431.4 572.1,437.5 574.6,443.6 577.6,450.9 580,457.6 581.2,460 582.5,455.7 583.7,451.5 586.1,453.9 589.7,460 592.8,454.5 595.8,447.2 597,439.9 599.5,427.8 601.7,425.4 603.1,429.6 605.5,430.2 607.5,433.5" fill="none" stroke="#20b2aa" stroke-width="1" />
<path d="M3.5 507V513M5.5 507V513M7.5 507V513M9.5 507V513M11.5 507V513M13.5 507V513M15.5 507V513M17.5 507V513M19.5 507V513M21.5 507V513M23.5 507V513M25.5 507V513M27.5 507V513M29.5 507V513M31.5 507V513M33.5 507V513M35.5 507V513M37.5 507V513M39.5 507V513M41.5 507V513M43.5 507V513M45.5 507V513M47.5 507V513M49.5 507V510M51.5 502V508M53.5 495V508M55.5 495V508M57.5 495V508M59.5 495V508M61.5 495V508M63.5 495V508M65.5 495V508M67.5 495V508M69.5 496V508M71.5 498V508M73.5 500V508M75.5 504V508M77.5 505V508M79.5 507V509M81.5 507V512M83.5 507V515M85.5 507V516M87.5 507V516M89.5 507V517M91.5 507V517M93.5 507V517M95.5 507V517M97.5 507V517M99.5 507V515M101.5 507V515M103.5 507V514M105.5 507V514M107.5 507V513M109.5 507V513M111.5 507V513M113.5 507V513M115.5 507V513M117.5 507V513M119.5 507V513M121.5 507V515M123.5 507V516M125.5 507V517M127.5 507V520M129.5 507V522M131.5 507V524M133.5 507V524M135.5 507V525M137.5 507V525M139.5 507V525M141.5 507V526M143.5 507V526M145.5 507V526M147.5 507V526M149.5 507V526M151.5 507V526M153.5 507V526M155.5 507V526M157.5 507V526M159.5 507V526M161.5 507V526M163.5 507V526M165.5 507V527M167.5 507V527M169.5 507V528M171.5 507V529M173.5 507V529M175.5 507V530M177.5 507V531M179.5 507V532M181.5 507V532M183.5 507V533M185.5 507V534M187.5 507V535M189.5 507V535M191.5 507V536M193.5 507V536M195.5 507V536M197.5 507V536M199.5 507V535M201.5 507V533M203.5 507V532M205.5 507V531M207.5 507V530M209.5 507V529M211.5 507V528M213.5 507V527M215.5 507V526M217.5 507V524M219.5 507V523M221.5 507V522M223.5 507V520M225.5 507V519M227.5 507V518M229.5 507V517M231.5 507V515M233.5 507V515M235.5 507V514M237.5 507V513M239.5 507V512M241.5 507V512M243.5 507V511M245.5 507V511M247.5 507V511M249.5 507V510M251.5 507V510M253.5 507V510M255.5 507V510M257.5 507V510M259.5 507V509M261.5 507V509M263.5 507V509M265.5 507V509M269.5 506V508M271.5 506V508M273.5 505V508M275.5 505V508M277.5 505V508M279.5 505V508M281.5 505V508M283.5 505V508M285.5 505V508M287.5 505V508M289.5 505V508M291.5 506V508M357.5 507V509M359.5 507V510M361.5 507V511M363.5 507V512M365.5 507V513M367.5 507V514M369.5 507V514M371.5 507V515M373.5 507V516M375.5 507V517M377.5 507V517M379.5 507V518M381.5 507V518M383.5 507V519M385.5 507V519M387.5 507V519M389.5 507V519M391.5 507V518M393.5 507V518M395.5 507V518M397.5 507V517M399.5 507V517M401.5 507V517M403.5 507V516M405.5 507V515M407.5 507V515M409.5 507V515M411.5 507V514M413.5 507V514M415.5 507V513M417.5 507V513M419.5 507V513M421.5 507V512M423.5 507V512M425.5 507V511M427.5 507V510M429.5 507V509M431.5 507V509M461.5 506V508M463.5 506V508M465.5 506V508M467.5 506V508M469.5 506V508M471.5 506V508M473.5 506V508M475.5 506V508M477.5 506V508M479.5 506V508M485.5 507V509M487.5 507V509M489.5 507V510M491.5 507V510M493.5 507V510M495.5 507V510M497.5 507V510M499.5 507V510M501.5 507V510M503.5 507V510M505.5 507V510M507.5 507V510M509.5 507V510M511.5 507V510M513.5 507V510M515.5 507V510M517.5 507V510M519.5 507V510M521.5 507V510M523.5 507V510M525.5 507V509M527.5 507V509M529.5 507V511M531.5 507V512M533.5 507V514M535.5 507V516M537.5 507V518M539.5 507V521M541.5 507V522M543.5 507V523M545.5 507V524M547.5 507V524M549.5 507V524M551.5 507V524M553.5 507V524M555.5 507V523M557.5 507V523M559.5 507V522M561.5 507V522M563.5 507V521M565.5 507V521M567.5 507V520M569.5 507V520M571.5 507V519M573.5 507V519M575.5 507V519M577.5 507V518M579.5 507V518M581.5 507V517M583.5 507V517M585.5 507V517M587.5 507V516M589.5 507V516M591.5 507V516M593.5 507V515M595.5 507V515M597.5 507V514M599.5 507V513M601.5 507V513M603.5 507V511M605.5 507V511M607.5 507V510" stroke="#c0c0c0" stroke-width="1" fill="none"/>
<line x1="3" y1="507.5" x2="608" y2="507.5" stroke="#c0c0c0" stroke-width="1"/>
<polyline points="3,517.5 9.8,515.5 15.7,513.5 23.6,511.6 31.5,511.2 39.4,512.5 47.2,513.5 51.2,510.6 55.1,505.7 59.1,500.7 63,495.8 66.9,491.9 71.9,490.9 76.8,494.8 80.7,499.7 84.6,505.7 89.6,511.6 94.5,514.5 100.4,514.5 106.3,513.5 112.2,512.3 118.1,512.3 124.5,515.8 131.8,518.9 139.1,521.8 146.4,524.2 153.6,522.3 160.9,520.6 168.2,521.3 175.5,525.5 182.7,530.3 190,533.9 194.8,535.2 202.1,532.7 209.4,529.1 216.7,525.5 223.9,522.3 231.2,518.2 238.5,514.5 245.8,510.9 255.5,509.2 265.2,508.5 274.7,507.5 284.4,505.8 291.7,504.5 295.3,505 303.8,507 313.5,507.5 323.2,508.2 332.9,507.5 342.6,507 349.8,506.5 355.9,507.5 362,509.4 369.2,513 376.5,515.5 385,518.6 393.5,516.7 403.2,514.2 412.9,512.3 420.2,510.8 427.3,508.9 434.5,507 444.2,506.5 453.9,507 463.6,506 473.3,504.5 480.6,505 487.9,507 497.6,508.9 507.3,508.9 517,508.2 526.7,508.9 533.9,513.8 540,518.5 542.2,519.6 546.5,521.8 553,523.4 559.6,523.4 565,522.4 571.6,520.2 577,518 583.6,516.4 589,515.6 595.6,516.4 601,516.1 606.5,514.2" fill="none" stroke="#ff0000" stroke-width="1" stroke-dasharray="3 2"/>
<g fill="none" stroke="#000" stroke-width="1"><rect x="2.5" y="2.5" width="618" height="332"/><rect x="2.5" y="336.5" width="618" height="74"/><rect x="2.5" y="412.5" width="618" height="67"/><rect x="2.5" y="481.5" width="618" height="58"/></g>
<line x1="620.5" y1="2" x2="620.5" y2="540" stroke="#000"/>
<path d="M621 34.5h3M621 67.5h3M621 100.5h3M621 133.5h3M621 166.5h3M621 199.5h3M621 232.5h3M621 265.5h3M621 298.5h3M621 331.5h3M621 337.5h3M621 409.5h3M621 413.5h3M621 426.5h3M621 465.5h3M621 478.5h3M621 482.5h3M621 507.5h3M621 538.5h3M3.5 540v3M67.5 540v3M131.5 540v3M195.5 540v3M259.5 540v3M323.5 540v3M387.5 540v3M451.5 540v3M515.5 540v3M579.5 540v3" stroke="#000" stroke-width="1" fill="none"/>
<g font-family="Liberation Sans, Arial, sans-serif" stroke="#000" stroke-width="0.25" shape-rendering="auto" text-rendering="geometricPrecision"><text x="626.5" y="38.0" font-size="10.0" fill="#000" textLength="27.4" lengthAdjust="spacingAndGlyphs">1335.0</text><text x="626.5" y="71.0" font-size="10.0" fill="#000" textLength="27.4" lengthAdjust="spacingAndGlyphs">1316.0</text><text x="626.5" y="104.0" font-size="10.0" fill="#000" textLength="27.4" lengthAdjust="spacingAndGlyphs">1296.5</text><text x="626.5" y="137.0" font-size="10.0" fill="#000" textLength="27.4" lengthAdjust="spacingAndGlyphs">1277.0</text><text x="626.5" y="170.0" font-size="10.0" fill="#000" textLength="27.4" lengthAdjust="spacingAndGlyphs">1258.0</text><text x="626.5" y="203.0" font-size="10.0" fill="#000" textLength="27.4" lengthAdjust="spacingAndGlyphs">1238.5</text><text x="626.5" y="236.0" font-size="10.0" fill="#000" textLength="27.4" lengthAdjust="spacingAndGlyphs">1219.5</text><text x="626.5" y="269.0" font-size="10.0" fill="#000" textLength="27.4" lengthAdjust="spacingAndGlyphs">1200.0</text><text x="626.5" y="302.0" font-size="10.0" fill="#000" textLength="27.4" lengthAdjust="spacingAndGlyphs">1180.5</text><text x="626.5" y="335.0" font-size="10.0" fill="#000" textLength="27.4" lengthAdjust="spacingAndGlyphs">1161.5</text><text x="626.5" y="347.0" font-size="10.0" fill="#000" textLength="16.0" lengthAdjust="spacingAndGlyphs">100</text><text x="626.5" y="363.0" font-size="10.0" fill="#000" textLength="10.6" lengthAdjust="spacingAndGlyphs">70</text><text x="626.5" y="392.0" font-size="10.0" fill="#000" textLength="10.6" lengthAdjust="spacingAndGlyphs">30</text><text x="626.5" y="407.0" font-size="10.0" fill="#000" textLength="5.2" lengthAdjust="spacingAndGlyphs">0</text><text x="626.5" y="423.0" font-size="10.0" fill="#000" textLength="16.0" lengthAdjust="spacingAndGlyphs">100</text><text x="626.5" y="430.0" font-size="10.0" fill="#000" textLength="10.6" lengthAdjust="spacingAndGlyphs">80</text><text x="626.5" y="469.0" font-size="10.0" fill="#000" textLength="10.6" lengthAdjust="spacingAndGlyphs">20</text><text x="626.5" y="475.0" font-size="10.0" fill="#000" textLength="5.2" lengthAdjust="spacingAndGlyphs">0</text><text x="626.5" y="492.0" font-size="10.0" fill="#000" textLength="22.0" lengthAdjust="spacingAndGlyphs">10.46</text><text x="626.5" y="511.0" font-size="10.0" fill="#000" textLength="17.0" lengthAdjust="spacingAndGlyphs">0.00</text><text x="623.5" y="536.0" font-size="10.0" fill="#000" textLength="27.0" lengthAdjust="spacingAndGlyphs">-13.31</text><text x="18.5" y="14.0" font-size="10.0" fill="#000" textLength="59.5" lengthAdjust="spacingAndGlyphs">GOLD_Z16,H1</text><text x="85.8" y="14.0" font-size="10.0" fill="#000" textLength="120.0" lengthAdjust="spacingAndGlyphs">1189.4 1189.7 1186.3 1187.0</text><text x="7.0" y="349.0" font-size="10.0" fill="#000" textLength="151.0" lengthAdjust="spacingAndGlyphs">RSI(14) 53.1335  -&gt;MA(18) 43.6051</text><text x="7.0" y="425.0" font-size="10.0" fill="#000" textLength="121.0" lengthAdjust="spacingAndGlyphs">Stoch(5,3,3) 67.9157 72.4901</text><text x="7.5" y="494.0" font-size="10.0" fill="#000" textLength="112.5" lengthAdjust="spacingAndGlyphs">MACD(12,26,9) -0.76 -2.82</text><text x="2.0" y="552.0" font-size="10.0" fill="#000" textLength="48.5" lengthAdjust="spacingAndGlyphs">8 Nov 2016</text><text x="65.8" y="552.0" font-size="10.0" fill="#000" textLength="51.7" lengthAdjust="spacingAndGlyphs">9 Nov 11:00</text><text x="130.7" y="552.0" font-size="10.0" fill="#000" textLength="56.3" lengthAdjust="spacingAndGlyphs">10 Nov 20:00</text><text x="194.4" y="552.0" font-size="10.0" fill="#000" textLength="56.4" lengthAdjust="spacingAndGlyphs">14 Nov 07:00</text><text x="258.7" y="552.0" font-size="10.0" fill="#000" textLength="56.3" lengthAdjust="spacingAndGlyphs">15 Nov 16:00</text><text x="322.6" y="552.0" font-size="10.0" fill="#000" textLength="56.3" lengthAdjust="spacingAndGlyphs">17 Nov 02:00</text><text x="386.6" y="552.0" font-size="10.0" fill="#000" textLength="56.3" lengthAdjust="spacingAndGlyphs">18 Nov 11:00</text><text x="450.6" y="552.0" font-size="10.0" fill="#000" textLength="56.3" lengthAdjust="spacingAndGlyphs">21 Nov 21:00</text><text x="514.6" y="552.0" font-size="10.0" fill="#000" textLength="56.3" lengthAdjust="spacingAndGlyphs">23 Nov 07:00</text><text x="578.6" y="552.0" font-size="10.0" fill="#000" textLength="56.3" lengthAdjust="spacingAndGlyphs">24 Nov 16:00</text></g>
<rect x="622" y="282" width="36" height="11" fill="#000"/><rect x="622" y="235" width="36" height="11" fill="#ff0000"/><rect x="622" y="257" width="36" height="11" fill="#ff0000"/><rect x="622" y="288" width="36" height="11" fill="#008000"/><rect x="622" y="310" width="36" height="11" fill="#008000"/><rect x="622" y="320" width="36" height="11" fill="#008000"/>
<g font-family="Liberation Sans, Arial, sans-serif" stroke="#fff" stroke-width="0.25" text-rendering="geometricPrecision"><text x="626.5" y="291.0" font-size="10.0" fill="#fff" textLength="27.4" lengthAdjust="spacingAndGlyphs">1187.0</text><text x="626.5" y="244.0" font-size="10.0" fill="#fff" textLength="27.4" lengthAdjust="spacingAndGlyphs">1214.0</text><text x="626.5" y="266.0" font-size="10.0" fill="#fff" textLength="27.4" lengthAdjust="spacingAndGlyphs">1201.2</text><text x="626.5" y="297.0" font-size="10.0" fill="#fff" textLength="27.4" lengthAdjust="spacingAndGlyphs">1183.3</text><text x="626.5" y="319.0" font-size="10.0" fill="#fff" textLength="27.4" lengthAdjust="spacingAndGlyphs">1170.0</text><text x="626.5" y="329.0" font-size="10.0" fill="#fff" textLength="27.4" lengthAdjust="spacingAndGlyphs">1165.0</text></g>
<path d="M6 9h7l-3.5 4z" fill="#000" shape-rendering="auto"/>
</svg>
</body></html>
